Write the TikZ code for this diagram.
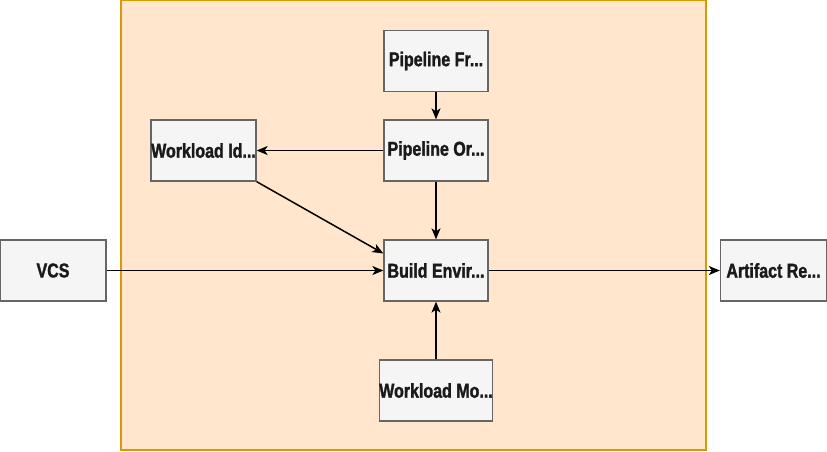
\documentclass[tikz,border=0pt]{standalone}
\usepackage{fontspec}
\newfontfamily\boxfont{Liberation Sans Bold}[FakeStretch=0.8, FakeBold=1.5]
\usetikzlibrary{arrows.meta}
\definecolor{contfill}{HTML}{FFE6CC}
\definecolor{contdraw}{HTML}{D79B00}
\definecolor{boxfill}{HTML}{F5F5F5}
\definecolor{boxdraw}{HTML}{666666}
\definecolor{txt}{HTML}{1A1A1A}
\begin{document}
\begin{tikzpicture}[x=1pt,y=-1pt,
  box/.style={draw=boxdraw, fill=boxfill, line width=1.3pt, minimum width=104pt, minimum height=61pt, inner sep=0pt, font=\boxfont\fontsize{20}{22}\selectfont, text=txt},
  conn/.style={draw=black, line width=1.5pt, -{Stealth[length=11pt,width=9pt,inset=3pt]}}]
\useasboundingbox (0,0) rectangle (827,451);
\node[draw=contdraw, fill=contfill, line width=1.5pt, minimum width=585pt, minimum height=450pt, inner sep=0pt] (cont) at (413.5,225) {};
\node[box] (pf) at (436,61) {Pipeline Fr...};
\node[box] (po) at (436,150.5) {Pipeline Or...};
\node[box, minimum width=105pt] (wi) at (203.5,150.5) {Workload Id...};
\node[box, minimum width=106pt] (vcs) at (53,270.5) {VCS};
\node[box] (be) at (436,270.5) {Build Envir...};
\node[box, minimum width=106pt] (ar) at (773.5,270.5) {Artifact Re...};
\node[box] (wm) at (436,390.5) {Workload Mo...};
\draw[conn] (pf) -- (po);
\draw[conn] (po) -- (wi);
\draw[conn] (po) -- (be);
\draw[conn] (wi.south east) -- ([yshift=17pt]be.west);
\draw[conn] (vcs) -- (be);
\draw[conn] (be) -- (ar);
\draw[conn] (wm) -- (be);
\end{tikzpicture}
\end{document}
